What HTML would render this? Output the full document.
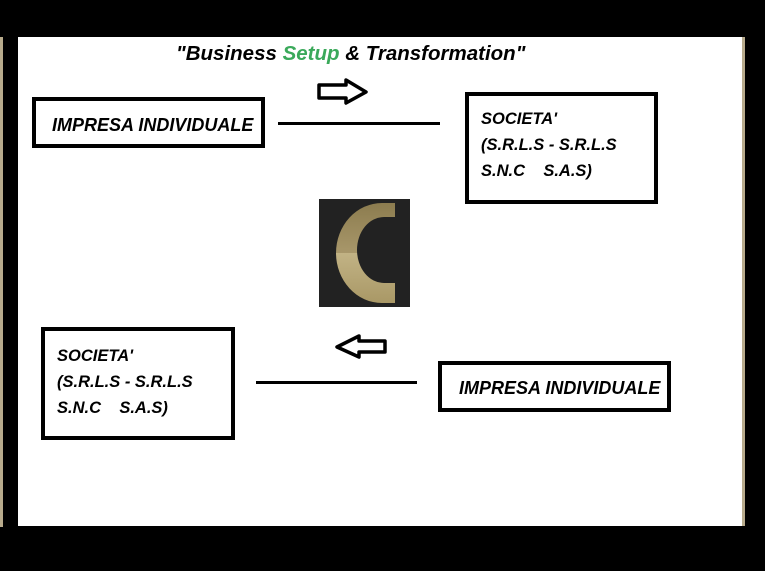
<!DOCTYPE html>
<html><head><style>
body{margin:0;width:765px;height:571px;background:#000;position:relative;overflow:hidden;font-family:"Liberation Sans",sans-serif;font-weight:bold;font-style:italic;}
.a{position:absolute;}
.box{position:absolute;border:4px solid #000;background:#fff;box-sizing:border-box;font-size:16.5px;color:#000;}
.ln{position:absolute;height:3px;background:#000;}
</style></head><body>
<div class="a" style="left:0;top:37px;width:3px;height:490px;background:#b8ab8c"></div>
<div class="a" style="left:742px;top:37px;width:3px;height:489px;background:#b8ab8c"></div>
<div class="a" style="left:18px;top:37px;width:724px;height:489px;background:#fff"></div>
<div class="a" style="left:176px;top:42px;font-size:20.5px;white-space:nowrap">"Business <span style="color:#3aa95a">Setup</span> &amp; Transformation"</div>
<div class="box" style="left:32px;top:97px;width:233px;height:51px;"><div class="a" style="left:16px;top:14px;font-size:18px;white-space:nowrap">IMPRESA INDIVIDUALE</div></div>
<div class="box" style="left:465px;top:92px;width:193px;height:112px;"><div class="a" style="left:12px;top:10px;line-height:26px;white-space:pre">SOCIETA'
(S.R.L.S - S.R.L.S
S.N.C    S.A.S)</div></div>
<div class="box" style="left:41px;top:327px;width:194px;height:113px;"><div class="a" style="left:12px;top:12px;line-height:26px;white-space:pre">SOCIETA'
(S.R.L.S - S.R.L.S
S.N.C    S.A.S)</div></div>
<div class="box" style="left:438px;top:361px;width:233px;height:51px;"><div class="a" style="left:17px;top:13px;font-size:18px;white-space:nowrap">IMPRESA INDIVIDUALE</div></div>
<div class="ln" style="left:278px;top:122px;width:162px"></div>
<div class="ln" style="left:256px;top:381px;width:161px"></div>
<svg class="a" style="left:0;top:0" width="765" height="571">
<polygon points="319,85 346,85 346,80 366,92 346,103 346,98 319,98" fill="#fff" stroke="#000" stroke-width="3.5" stroke-linejoin="round"/>
<polygon points="385,341 359,341 359,336 337,347 359,357 359,352 385,352" fill="#fff" stroke="#000" stroke-width="3.5" stroke-linejoin="round"/>
<rect x="319" y="199" width="91" height="108" fill="#222"/>
<defs><linearGradient id="g" x1="0" y1="0" x2="0" y2="1"><stop offset="0" stop-color="#8c7c4f"/><stop offset="0.5" stop-color="#a8976a"/><stop offset="0.5" stop-color="#c2b385"/><stop offset="1" stop-color="#a99866"/></linearGradient></defs>
<path d="M395,203 L382,203 A46,50 0 0 0 382,303 L395,303 L395,283 L384,283 A27,33 0 0 1 384,217 L395,217 Z" fill="url(#g)"/>
</svg>
</body></html>
